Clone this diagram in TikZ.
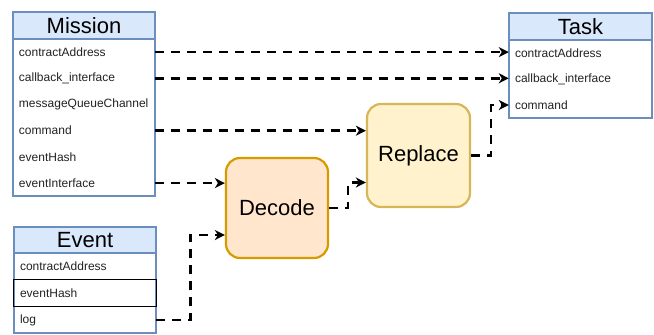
\documentclass[tikz,border=0pt]{standalone}
\usepackage{fontspec}
\setmainfont{Liberation Sans}
\usetikzlibrary{arrows.meta,calc}
\definecolor{hdrfill}{HTML}{DAE8FC}
\definecolor{hdrline}{HTML}{6C8EBF}
\definecolor{decfill}{HTML}{FFE6CC}
\definecolor{decline}{HTML}{D79B00}
\definecolor{repfill}{HTML}{FFF2CC}
\definecolor{repline}{HTML}{D6B656}
\definecolor{rowtext}{HTML}{222222}
\tikzset{
  classhead/.style={draw=hdrline, fill=hdrfill, line width=2pt, inner sep=0pt,
    font=\fontsize{22}{24}\selectfont},
  classbody/.style={draw=hdrline, line width=2pt},
  row/.style={inner xsep=6pt, inner ysep=0pt, text width=#1, align=left,
    minimum height=26pt, text=rowtext, font=\fontsize{12}{14}\selectfont,
    anchor=center},
  row/.default=130pt,
  stepnode/.style={rounded corners=14pt, line width=2.2pt, inner sep=0pt,
    font=\fontsize{22}{24}\selectfont},
  conn/.style={line width=2.6pt, dash pattern=on 9pt off 7pt,
    -{Stealth[length=10pt,width=10pt,inset=3pt]}},
}
\begin{document}
\begin{tikzpicture}[x=1pt,y=-1pt]
\useasboundingbox (0,0) rectangle (654,335);

% Mission class
\draw[classbody] (13,12) rectangle (155,196);
\node[classhead, minimum width=142pt, minimum height=27pt] (mission) at (84,25.5) {Mission};
\node[row] (m1) at (84,52.1) {contractAddress};
\node[row] (m2) at (84,78.3) {callback\_interface};
\node[row] (m3) at (84,104.5) {messageQueueChannel};
\node[row] (m4) at (84,130.7) {command};
\node[row] (m5) at (84,156.9) {eventHash};
\node[row] (m6) at (84,183.1) {eventInterface};

% Task class
\draw[classbody] (509,13) rectangle (652,118);
\node[classhead, minimum width=143pt, minimum height=27pt] (task) at (580.5,26.5) {Task};
\node[row=131pt] (t1) at (580.5,53) {contractAddress};
\node[row=131pt] (t2) at (580.5,79) {callback\_interface};
\node[row=131pt] (t3) at (580.5,105) {command};

% Event class
\draw[classbody] (14,227) rectangle (156,333);
\node[classhead, minimum width=142pt, minimum height=26pt] (event) at (85,240) {Event};
\node[row] (e1) at (85,266.5) {contractAddress};
\node[row] (e2) at (85,293.3) {eventHash};
\node[row] (e3) at (85,320) {log};
\draw[black, line width=1pt] ($(e2.west)+(0,-13.5)$) rectangle ($(e2.east)+(0,13.5)$);

% processing steps
\node[stepnode, draw=decline, fill=decfill, minimum width=102pt, minimum height=100pt]
  (decode) at (277,208) {Decode};
\node[stepnode, draw=repline, fill=repfill, minimum width=103pt, minimum height=103pt]
  (replace) at (418.5,155.5) {Replace};

% data flow
\draw[conn] (m1.east) -- (m1.east -| t1.west);
\draw[conn] (m2.east) -- (m2.east -| t2.west);
\draw[conn] (m4.east) -- (m4.east -| replace.west);
\draw[conn] (m6.east) -- (m6.east -| decode.west);
\draw[conn] (e3.east) -- ++(34,0) |- ($(decode.west)+(0,27)$);
\draw[conn] (decode.east) -- ++(19,0) |- ($(replace.west)+(0,27)$);
\draw[conn] (replace.east) -- ++(20,0) |- (t3.west);
\end{tikzpicture}
\end{document}
